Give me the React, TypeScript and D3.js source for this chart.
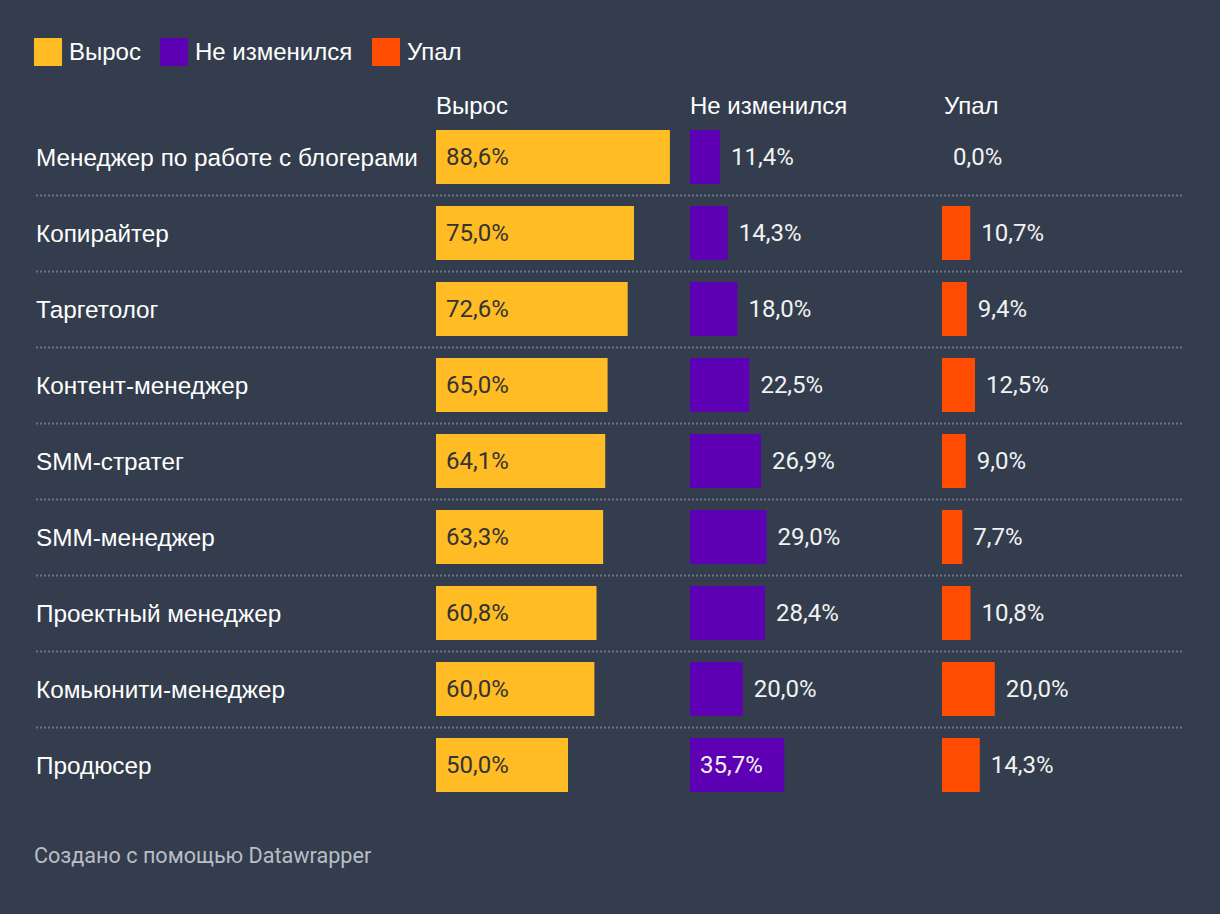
import React from "react";
import * as d3 from "d3";

const categories = [
  "Менеджер по работе с блогерами",
  "Копирайтер",
  "Таргетолог",
  "Контент-менеджер",
  "SMM-стратег",
  "SMM-менеджер",
  "Проектный менеджер",
  "Комьюнити-менеджер",
  "Продюсер",
];
const grew = [88.6, 75.0, 72.6, 65.0, 64.1, 63.3, 60.8, 60.0, 50.0];
const unchanged = [11.4, 14.3, 18.0, 22.5, 26.9, 29.0, 28.4, 20.0, 35.7];
const fell = [0.0, 10.7, 9.4, 12.5, 9.0, 7.7, 10.8, 20.0, 14.3];
const seriesNames = ["Вырос", "Не изменился", "Упал"];
const seriesColors = ["#FFBC24", "#5E00B3", "#FF4C00"];
const footer = "Создано с помощью Datawrapper";

const W = 1220;
const H = 914;
const BG = "#333D4D";
const LABEL_FONT = "'Liberation Sans', Arial, sans-serif";
const VALUE_FONT = "Roboto, sans-serif";

export default function App() {
  const y = d3
    .scaleBand<string>()
    .domain(categories)
    .range([130, 792])
    .paddingInner(22 / 76)
    .paddingOuter(0);
  const x = d3.scaleLinear().domain([0, 100]).range([0, 264]);
  const colX = [436, 690, 942];
  const series = [grew, unchanged, fell];
  const fmt = (v: number) => v.toFixed(1).replace(".", ",") + "%";
  const legendX = [34, 160, 372];

  return (
    <svg
      width={W}
      height={H}
      style={{ position: "absolute", left: 0, top: 0, display: "block" }}
    >
      <rect x={0} y={0} width={W} height={H} fill={BG} />
      {/* legend */}
      {seriesNames.map((n, i) => (
        <g key={n}>
          <rect x={legendX[i]} y={38} width={28} height={28} fill={seriesColors[i]} />
          <text
            x={legendX[i] + 35}
            y={51}
            dominantBaseline="central"
            fill="#ffffff"
            fontFamily={LABEL_FONT}
            fontSize={24}
          >
            {n}
          </text>
        </g>
      ))}
      {/* column headers */}
      {seriesNames.map((n, i) => (
        <text
          key={"h" + n}
          x={colX[i] + (i === 2 ? 2 : 0)}
          y={105}
          dominantBaseline="central"
          fill="#ffffff"
          fontFamily={LABEL_FONT}
          fontSize={24}
        >
          {n}
        </text>
      ))}
      {/* separators */}
      {categories.slice(0, -1).map((c) => {
        const yy = (y(c) as number) + y.bandwidth() + 11.5;
        return (
          <line
            key={"s" + c}
            x1={36}
            x2={1184}
            y1={yy}
            y2={yy}
            stroke="#6B7482"
            strokeWidth={2}
            strokeDasharray="2,2"
          />
        );
      })}
      {/* rows */}
      {categories.map((c, r) => {
        const y0 = y(c) as number;
        const cy = y0 + y.bandwidth() / 2;
        return (
          <g key={c}>
            <text
              x={36}
              y={cy}
              dominantBaseline="central"
              fill="#ffffff"
              fontFamily={LABEL_FONT}
              fontSize={24.3}
            >
              {c}
            </text>
            {series.map((s, si) => {
              const v = s[r];
              const w = x(v);
              const inside = si === 0 || w > 80;
              const color = seriesColors[si];
              return (
                <g key={si}>
                  {w > 0 && (
                    <rect x={colX[si]} y={y0} width={w} height={y.bandwidth()} fill={color} />
                  )}
                  <text
                    x={inside ? colX[si] + 10 : colX[si] + w + 11}
                    y={cy}
                    dominantBaseline="central"
                    fill={si === 0 ? "#333333" : "#F2F2F2"}
                    fontFamily={VALUE_FONT}
                    fontSize={24}
                  >
                    {fmt(v)}
                  </text>
                </g>
              );
            })}
          </g>
        );
      })}
      <text
        x={34}
        y={855}
        dominantBaseline="central"
        fill="#B9BDC4"
        fontFamily={VALUE_FONT}
        fontSize={21.6}
      >
        {footer}
      </text>
    </svg>
  );
}
